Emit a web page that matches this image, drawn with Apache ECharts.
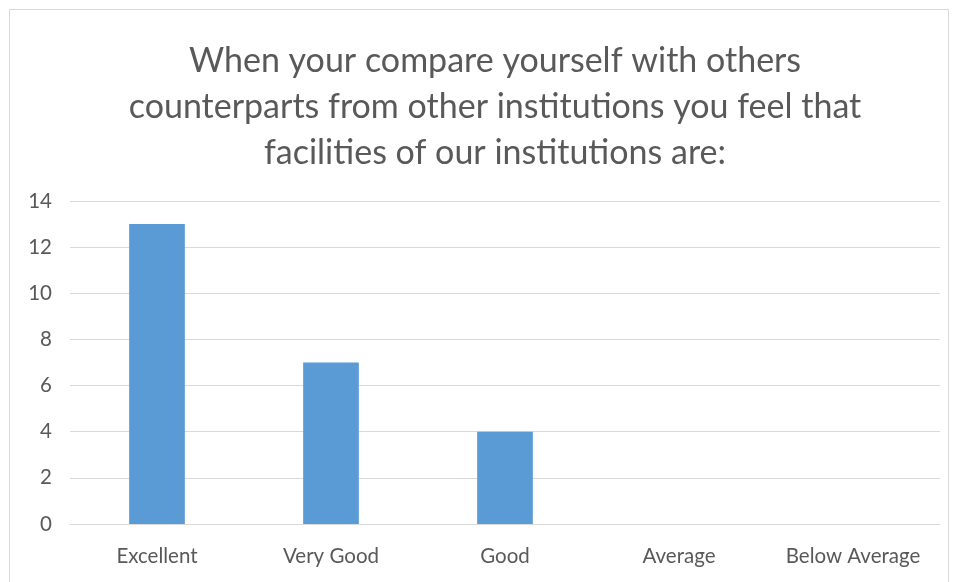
<!DOCTYPE html>
<html><head><meta charset="utf-8">
<script src="https://cdn.jsdelivr.net/npm/echarts@6/dist/echarts.min.js"></script>
<style>html,body{margin:0;padding:0;background:#fff}#c{width:958px;height:582px}</style>
</head><body><div id="c"></div>
<script>
const categories = ['Excellent', 'Very Good', 'Good', 'Average', 'Below Average'];
const values = [13, 7, 4, 0, 0];
const yTicks = { min: 0, max: 14, interval: 2 };
const titleText = 'When your compare yourself with others\ncounterparts from other institutions you feel that\nfacilities of our institutions are:';

const FONT = 'Lato';
const chart = echarts.init(document.getElementById('c'), null, { renderer: 'canvas' });
chart.setOption({
  backgroundColor: '#fff',
  animation: false,
  graphic: [{
    type: 'rect', shape: { x: 9.5, y: 9.5, width: 939, height: 600 },
    style: { fill: 'none', stroke: '#d9d9d9', lineWidth: 1 }, z: -1
  }],
  title: {
    text: titleText, left: 490, top: 33, textAlign: 'center',
    textStyle: { fontFamily: FONT, fontSize: 34, fontWeight: 'normal', color: '#595959', lineHeight: 46 }
  },
  grid: { left: 70, right: 18, top: 201, bottom: 58 },
  xAxis: {
    type: 'category', data: categories,
    axisLine: { lineStyle: { color: '#d9d9d9', width: 1 } },
    axisTick: { show: false },
    axisLabel: { color: '#595959', fontFamily: FONT, fontSize: 20.5, margin: 22, interval: 0, hideOverlap: false }
  },
  yAxis: {
    type: 'value', min: yTicks.min, max: yTicks.max, interval: yTicks.interval,
    axisLine: { show: false }, axisTick: { show: false },
    splitLine: { lineStyle: { color: '#d9d9d9', width: 1 } },
    axisLabel: { color: '#595959', fontFamily: FONT, fontSize: 20.5, margin: 18 }
  },
  series: [{
    type: 'bar', data: values, barWidth: '32%',
    itemStyle: { color: '#5B9BD5' }
  }]
});
</script></body></html>
